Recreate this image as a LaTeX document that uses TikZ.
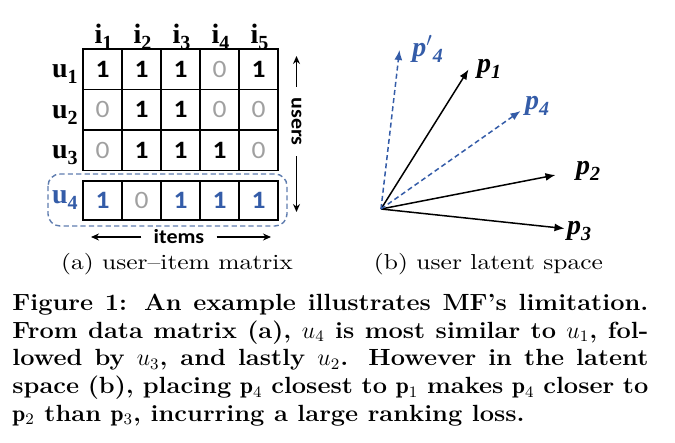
\documentclass[tikz,border=0pt]{standalone}
\usepackage{fontspec}
\usetikzlibrary{arrows.meta}
\newfontfamily\calfont[FakeStretch=1.1]{Carlito}
\newfontfamily\labfont{Liberation Serif}
\newfontfamily\subcapfont[FakeStretch=1.18,Ligatures=TeX]{Latin Modern Roman}
\newfontfamily\capfont[FakeStretch=1.085,Ligatures=TeX]{Latin Modern Roman}
\definecolor{ublue}{RGB}{52,92,168}
\definecolor{boxblue}{RGB}{95,125,175}
\definecolor{zgray}{RGB}{160,160,160}
\newcommand\ulab[2]{{\fontsize{14}{14}\selectfont\labfont\bfseries #1\raisebox{-3pt}{\fontsize{10}{10}\selectfont #2}}}
\newcommand\plab[2]{{\fontsize{14}{14}\selectfont\labfont\bfseries\itshape #1\raisebox{-3pt}{\fontsize{10}{10}\selectfont #2}}}
\begin{document}
\begin{tikzpicture}[x=0.5pt,y=-0.5pt,
  cellbox/.style={draw, line width=0.7pt, minimum width=19.5pt, minimum height=20.25pt, inner sep=0pt, font=\calfont\bfseries\fontsize{12.5}{12.5}\selectfont},
  lastcell/.style={cellbox, minimum height=19.5pt},
  zero/.style={text=zgray, font=\calfont\fontsize{12.5}{12.5}\selectfont},
  bl/.style={text=ublue},
  rowlab/.style={anchor=base east, inner sep=0pt},
  collab/.style={anchor=base, inner sep=0pt},
  axlab/.style={font=\calfont\bfseries\fontsize{10}{10}\selectfont, inner ysep=0pt},
  axarrow/.style={line width=0.6pt, -{Stealth[length=4pt,width=3.5pt]}},
  vec/.style={line width=0.75pt, -{Latex[length=5pt,width=4pt]}},
  dvec/.style={vec, ublue, dash pattern=on 2.5pt off 1.6pt},
  plabel/.style={inner sep=0pt},
  subcap/.style={font=\subcapfont\fontsize{10.8}{12}\selectfont, inner sep=0pt}
]
\useasboundingbox (0,0) rectangle (675,443);

% ---- matrix ----
\node[cellbox] (c11) at (102.5,69.25) {1};
\node[cellbox] (c12) at (141.5,69.25) {1};
\node[cellbox] (c13) at (180.5,69.25) {1};
\node[cellbox,zero] (c14) at (219.5,69.25) {0};
\node[cellbox] (c15) at (258.5,69.25) {1};

\node[cellbox,zero] (c21) at (102.5,109.75) {0};
\node[cellbox] (c22) at (141.5,109.75) {1};
\node[cellbox] (c23) at (180.5,109.75) {1};
\node[cellbox,zero] (c24) at (219.5,109.75) {0};
\node[cellbox,zero] (c25) at (258.5,109.75) {0};

\node[cellbox,zero] (c31) at (102.5,150.25) {0};
\node[cellbox] (c32) at (141.5,150.25) {1};
\node[cellbox] (c33) at (180.5,150.25) {1};
\node[cellbox] (c34) at (219.5,150.25) {1};
\node[cellbox,zero] (c35) at (258.5,150.25) {0};

\node[lastcell,bl] (c41) at (102.5,200.5) {1};
\node[lastcell,zero] (c42) at (141.5,200.5) {0};
\node[lastcell,bl] (c43) at (180.5,200.5) {1};
\node[lastcell,bl] (c44) at (219.5,200.5) {1};
\node[lastcell,bl] (c45) at (258.5,200.5) {1};

% dashed box around u4
\draw[boxblue, line width=0.7pt, dash pattern=on 2.6pt off 1.6pt, rounded corners=6pt] (48,174) rectangle (287,226);

% row labels
\node[rowlab] (u1) at (78,78) {\ulab{u}{1}};
\node[rowlab] (u2) at (78,118.5) {\ulab{u}{2}};
\node[rowlab] (u3) at (78,159) {\ulab{u}{3}};
\node[rowlab, text=ublue] (u4) at (78,204) {\ulab{u}{4}};

% column labels
\node[collab] (i1) at (103.5,44) {\ulab{i}{1}};
\node[collab] (i2) at (142.5,44) {\ulab{i}{2}};
\node[collab] (i3) at (181.5,44) {\ulab{i}{3}};
\node[collab] (i4) at (220.5,44) {\ulab{i}{4}};
\node[collab] (i5) at (259.5,44) {\ulab{i}{5}};

% users axis
\node[axlab, rotate=-90, inner xsep=5.25pt] (users) at (296.5,121.5) {users};
\coordinate (utop) at (296.5,56);
\coordinate (ubot) at (296.5,212);
\draw[axarrow] (users.west) -- (utop);
\draw[axarrow] (users.east) -- (ubot);

% items axis
\node[axlab, inner xsep=6pt] (items) at (179,237) {items};
\coordinate (ileft) at (91,237);
\coordinate (iright) at (271,237);
\draw[axarrow] (items.west) -- (ileft);
\draw[axarrow] (items.east) -- (iright);

% ---- latent space ----
\coordinate (O) at (381,209);
\coordinate (t4p) at (399.5,50);
\coordinate (t1) at (468.5,69.5);
\coordinate (t4) at (520.5,111);
\coordinate (t2) at (555.5,175);
\coordinate (t3) at (564.5,228.5);
\draw[vec] (O) -- (t1);
\draw[vec] (O) -- (t2);
\draw[vec] (O) -- (t3);
\draw[dvec] (O) -- (t4p);
\draw[dvec] (O) -- (t4);

\node[plabel, text=ublue] (lp4p) at (427.5,49) {\plab{p$'$}{4}};
\node[plabel] (lp1) at (489,69) {\plab{p}{1}};
\node[plabel, text=ublue] (lp4) at (537,106) {\plab{p}{4}};
\node[plabel] (lp2) at (588,171) {\plab{p}{2}};
\node[plabel] (lp3) at (579,231) {\plab{p}{3}};

% ---- sub captions ----
\node[subcap] (capa) at (177,264) {(a) user--item matrix};
\node[subcap] (capb) at (488.5,264) {(b) user latent space};

% ---- caption ----
\node[anchor=north west, inner sep=0pt, text width=318pt, align=justify,
      font=\capfont\fontsize{11.7}{13.85}\selectfont\bfseries] (caption) at (12,293.6)
{Figure 1: An example illustrates MF's limitation.\linebreak
From data matrix (a), $u_4$ is most similar to $u_1$, fol-\linebreak
lowed by $u_3$, and lastly $u_2$. However in the latent\linebreak
space (b), placing $\mathbf{p}_4$ closest to $\mathbf{p}_1$ makes $\mathbf{p}_4$ closer to\linebreak
$\mathbf{p}_2$ than $\mathbf{p}_3$, incurring a large ranking loss.};
\end{tikzpicture}
\end{document}
